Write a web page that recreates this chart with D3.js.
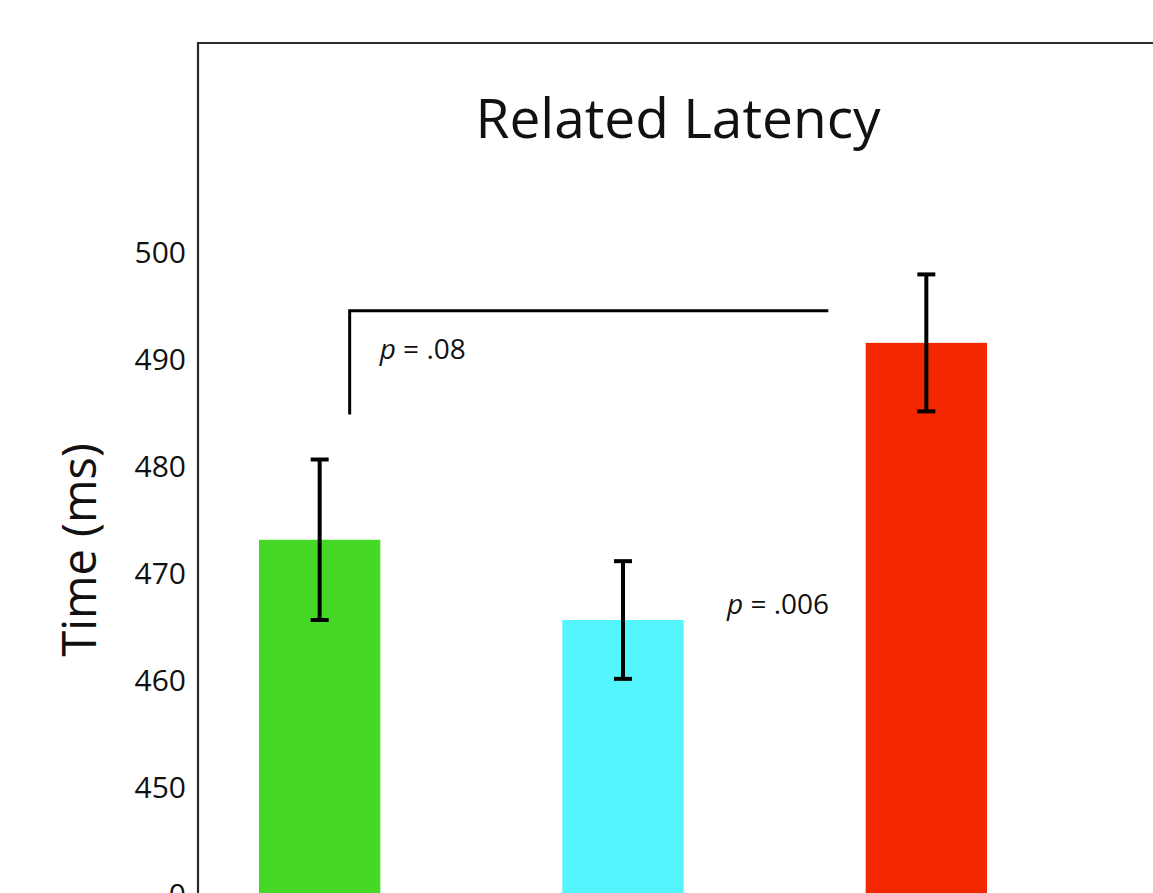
<!DOCTYPE html>
<html><head><meta charset="utf-8">
<script src="https://cdn.jsdelivr.net/npm/d3@7"></script>
<style>body{margin:0;background:#fff;overflow:hidden}svg{display:block}</style>
</head><body>
<script>
const categories = ["Group A", "Group B", "Group C"];
const means = [473.2, 465.7, 491.6];
const errors = [7.5, 5.5, 6.4];
const colors = ["#46d826", "#54f5fc", "#f32800"];
const tickValues = [440, 450, 460, 470, 480, 490, 500];
const tickLabels = ["0", "450", "460", "470", "480", "490", "500"];
const pLabels = ["p = .08", "p = .006"];

const W = 1153, H = 893;
const svg = d3.select("body").append("svg").attr("width", W).attr("height", H);
const font = "Open Sans, sans-serif";

const y = d3.scaleLinear().domain([440, 500]).range([895, 253]);
const x = d3.scaleBand().domain(categories).range([168, 1078]).paddingInner(0.6).paddingOuter(0.3);

// frame
svg.append("path").attr("d", `M198,${H+5} L198,43 L${W+5},43`)
  .attr("fill", "none").attr("stroke", "#2a2a2a").attr("stroke-width", 2.2);

// title
svg.append("text").attr("x", 678).attr("y", 138).attr("text-anchor", "middle")
  .attr("font-family", font).attr("font-size", 55).attr("fill", "#111").text("Related Latency");

// y axis labels
const yAxis = d3.axisLeft(y).tickValues(tickValues).tickFormat((d, i) => tickLabels[i]).tickSize(0).tickPadding(12);
const ga = svg.append("g").attr("transform", "translate(198,0)").call(yAxis);
ga.select(".domain").remove();
ga.selectAll("text").attr("font-family", font).attr("font-size", 30).attr("fill", "#111");

svg.append("text").attr("transform", "translate(96,550) rotate(-90)").attr("text-anchor", "middle")
  .attr("font-family", font).attr("font-size", 47).attr("fill", "#111").text("Time (ms)");

// bars
svg.selectAll("rect.bar").data(categories).join("rect").attr("class", "bar")
  .attr("x", d => x(d)).attr("width", x.bandwidth())
  .attr("y", (d, i) => y(means[i])).attr("height", (d, i) => H + 10 - y(means[i]))
  .attr("fill", (d, i) => colors[i]);

// error bars
const eb = svg.selectAll("g.err").data(categories).join("g").attr("class", "err");
const cx = d => x(d) + x.bandwidth() / 2;
eb.append("line").attr("x1", cx).attr("x2", cx)
  .attr("y1", (d, i) => y(means[i] + errors[i])).attr("y2", (d, i) => y(means[i] - errors[i]))
  .attr("stroke", "#000").attr("stroke-width", 4);
[1, -1].forEach(s => {
  eb.append("line").attr("x1", d => cx(d) - 9).attr("x2", d => cx(d) + 9)
    .attr("y1", (d, i) => y(means[i] + s * errors[i])).attr("y2", (d, i) => y(means[i] + s * errors[i]))
    .attr("stroke", "#000").attr("stroke-width", 4);
});

// significance bracket
const bx0 = cx(categories[0]) + 30, bx1 = cx(categories[2]) - 98;
svg.append("path").attr("d", `M${bx0},${y(484.9)} L${bx0},${y(494.6)} L${bx1},${y(494.6)}`)
  .attr("fill", "none").attr("stroke", "#000").attr("stroke-width", 3);

function pText(xp, yp, label) {
  const t = svg.append("text").attr("x", xp).attr("y", yp).attr("font-family", font)
    .attr("font-size", 28).attr("fill", "#111");
  t.append("tspan").attr("font-style", "italic").text(label.slice(0, 1));
  t.append("tspan").text(label.slice(1));
}
pText(bx0 + 30, y(490.1), pLabels[0]);
pText(727, y(466.3), pLabels[1]);
</script>
</body></html>
